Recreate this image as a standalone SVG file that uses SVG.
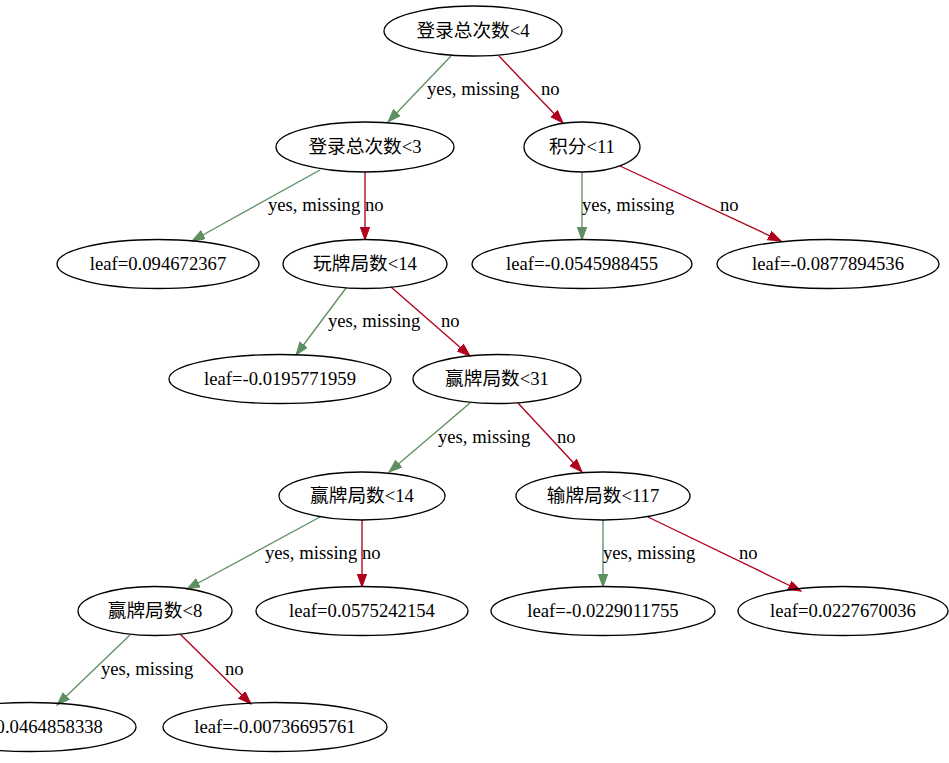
<svg xmlns="http://www.w3.org/2000/svg" width="949" height="763" viewBox="0 0 949 763">
<defs>
<style>
.n ellipse{fill:none;stroke:#000;stroke-width:1.33}
text{font-family:"Liberation Serif","Noto Sans CJK SC",serif;font-size:18.67px;fill:#000}
.n text{text-anchor:middle}
.g{stroke:#5f8f62;stroke-width:1.33;fill:none;marker-end:url(#ag)}
.r{stroke:#b0001c;stroke-width:1.33;fill:none;marker-end:url(#ar)}
</style>
<marker id="ag" markerUnits="userSpaceOnUse" markerWidth="14" markerHeight="10" refX="13" refY="4.7" orient="auto"><path d="M0,0 L13,4.7 L0,9.4 z" fill="#5f8f62" stroke="#5f8f62" stroke-width="1"/></marker>
<marker id="ar" markerUnits="userSpaceOnUse" markerWidth="14" markerHeight="10" refX="13" refY="4.7" orient="auto"><path d="M0,0 L13,4.7 L0,9.4 z" fill="#b0001c" stroke="#b0001c" stroke-width="1"/></marker>
</defs>
<rect width="949" height="763" fill="#fff"/>
<g id="edges">
<line class="g" x1="451" y1="56" x2="388" y2="122"/>
<line class="r" x1="499" y1="56" x2="563" y2="123"/>
<line class="g" x1="320" y1="170" x2="192" y2="241"/>
<line class="r" x1="365" y1="172" x2="365" y2="240"/>
<line class="g" x1="582" y1="172" x2="582" y2="240"/>
<line class="r" x1="620" y1="166" x2="781" y2="241"/>
<line class="g" x1="346" y1="288" x2="296" y2="355"/>
<line class="r" x1="391" y1="287" x2="470" y2="356"/>
<line class="g" x1="470" y1="403" x2="389" y2="472"/>
<line class="r" x1="518" y1="403" x2="582" y2="472"/>
<line class="g" x1="320" y1="517" x2="187" y2="589"/>
<line class="r" x1="362" y1="520" x2="362" y2="587"/>
<line class="g" x1="603" y1="520" x2="603" y2="587"/>
<line class="r" x1="648" y1="517" x2="801" y2="591"/>
<line class="g" x1="130" y1="635" x2="57" y2="705"/>
<line class="r" x1="180" y1="634" x2="251" y2="704"/>
<text x="427" y="95">yes, missing</text>
<text x="541" y="95">no</text>
<text x="268" y="211">yes, missing</text>
<text x="365" y="211">no</text>
<text x="582" y="211">yes, missing</text>
<text x="720" y="211">no</text>
<text x="328" y="327">yes, missing</text>
<text x="441" y="327">no</text>
<text x="438" y="443">yes, missing</text>
<text x="557" y="443">no</text>
<text x="265" y="559">yes, missing</text>
<text x="362" y="559">no</text>
<text x="603" y="559">yes, missing</text>
<text x="739" y="559">no</text>
<text x="101" y="675">yes, missing</text>
<text x="225" y="675">no</text>
</g>
<g id="n0" class="n"><ellipse cx="473" cy="31" rx="89" ry="25"/><text x="473" y="37">登录总次数&lt;4</text></g>
<g id="n1" class="n"><ellipse cx="365" cy="147" rx="89" ry="25"/><text x="365" y="153">登录总次数&lt;3</text></g>
<g id="n2" class="n"><ellipse cx="582" cy="147" rx="58" ry="25"/><text x="582" y="153">积分&lt;11</text></g>
<g id="n3" class="n"><ellipse cx="158" cy="264" rx="101" ry="24.5"/><text x="158" y="270">leaf=0.094672367</text></g>
<g id="n4" class="n"><ellipse cx="365" cy="264" rx="82" ry="24.5"/><text x="365" y="270">玩牌局数&lt;14</text></g>
<g id="n5" class="n"><ellipse cx="582" cy="264" rx="110" ry="24.5"/><text x="582" y="270">leaf=-0.0545988455</text></g>
<g id="n6" class="n"><ellipse cx="828" cy="264" rx="111" ry="24.5"/><text x="828" y="270">leaf=-0.0877894536</text></g>
<g id="n7" class="n"><ellipse cx="280" cy="379" rx="111" ry="24.5"/><text x="280" y="385">leaf=-0.0195771959</text></g>
<g id="n8" class="n"><ellipse cx="497" cy="379" rx="84" ry="24.5"/><text x="497" y="385">赢牌局数&lt;31</text></g>
<g id="n9" class="n"><ellipse cx="362" cy="496" rx="83" ry="24"/><text x="362" y="502">赢牌局数&lt;14</text></g>
<g id="n10" class="n"><ellipse cx="603" cy="496" rx="87" ry="24"/><text x="603" y="502">输牌局数&lt;117</text></g>
<g id="n11" class="n"><ellipse cx="155" cy="611" rx="77" ry="24.5"/><text x="155" y="617">赢牌局数&lt;8</text></g>
<g id="n12" class="n"><ellipse cx="362" cy="611" rx="106" ry="24.5"/><text x="362" y="617">leaf=0.0575242154</text></g>
<g id="n13" class="n"><ellipse cx="603" cy="611" rx="112" ry="24.5"/><text x="603" y="617">leaf=-0.0229011755</text></g>
<g id="n14" class="n"><ellipse cx="843" cy="611" rx="105" ry="24.5"/><text x="843" y="617">leaf=0.0227670036</text></g>
<g id="n15" class="n"><ellipse cx="30" cy="727" rx="106" ry="24.5"/><text x="30" y="733">leaf=0.0464858338</text></g>
<g id="n16" class="n"><ellipse cx="275" cy="727" rx="112" ry="24.5"/><text x="275" y="733">leaf=-0.00736695761</text></g>
</svg>
